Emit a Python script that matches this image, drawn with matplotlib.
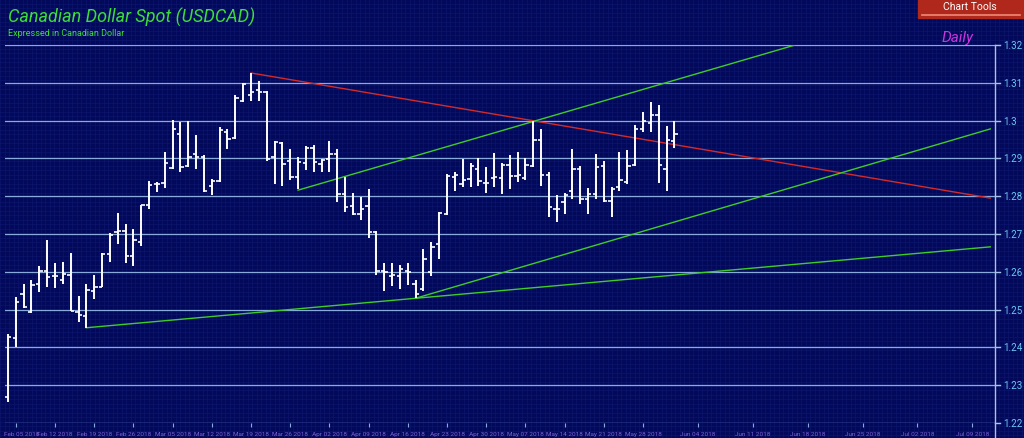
import matplotlib
matplotlib.use("Agg")
import matplotlib.pyplot as plt
import numpy as np
import pandas as pd

plt.rcParams['font.family'] = ['Roboto', 'DejaVu Sans']

# daily USDCAD bars, Feb 02 2018 .. Jun 01 2018 (weekdays)
dates = pd.bdate_range("2018-02-02", "2018-06-01")

opens = [1.2268, 1.2424, 1.2541, 1.2493, 1.2567, 1.2603, 1.2590, 1.2579, 1.2592, 1.2493,
         1.2482, 1.2548, 1.2561, 1.2647, 1.2705, 1.2707, 1.2643, 1.2680, 1.2777, 1.2833,
         1.2834, 1.2875, 1.2965, 1.2879, 1.2912, 1.2903, 1.2826, 1.2841, 1.2969, 1.2954,
         1.3051, 1.3067, 1.3080, 1.3075, 1.2903, 1.2941, 1.2892, 1.2850, 1.2888, 1.2927,
         1.2886, 1.2899, 1.2912, 1.2806, 1.2775, 1.2753, 1.2775, 1.2705, 1.2603, 1.2590,
         1.2590, 1.2603, 1.2568, 1.2555, 1.2599, 1.2674, 1.2753, 1.2850, 1.2833, 1.2846,
         1.2871, 1.2835, 1.2848, 1.2848, 1.2883, 1.2853, 1.2848, 1.2881, 1.2950, 1.2856,
         1.2766, 1.2784, 1.2815, 1.2871, 1.2793, 1.2806, 1.2879, 1.2788, 1.2824, 1.2837,
         1.2883, 1.2977, 1.2994, 1.3015, 1.2871, 1.2947]
highs = [1.2436, 1.2533, 1.2568, 1.2578, 1.2615, 1.2684, 1.2623, 1.2625, 1.2650, 1.2535,
         1.2568, 1.2592, 1.2649, 1.2703, 1.2756, 1.2727, 1.2712, 1.2778, 1.2841, 1.2837,
         1.2916, 1.3002, 1.2996, 1.3000, 1.2962, 1.2908, 1.2846, 1.2983, 1.2977, 1.3067,
         1.3100, 1.3127, 1.3104, 1.3077, 1.2945, 1.2943, 1.2924, 1.2903, 1.2932, 1.2936,
         1.2899, 1.2945, 1.2925, 1.2850, 1.2809, 1.2797, 1.2818, 1.2709, 1.2623, 1.2623,
         1.2618, 1.2623, 1.2579, 1.2661, 1.2678, 1.2758, 1.2859, 1.2864, 1.2899, 1.2888,
         1.2901, 1.2877, 1.2914, 1.2888, 1.2909, 1.2918, 1.2901, 1.3000, 1.2977, 1.2864,
         1.2802, 1.2809, 1.2925, 1.2879, 1.2821, 1.2912, 1.2894, 1.2824, 1.2916, 1.2921,
         1.2989, 1.3022, 1.3049, 1.3040, 1.2985, 1.3000]
lows = [1.2256, 1.2400, 1.2503, 1.2491, 1.2546, 1.2561, 1.2556, 1.2568, 1.2495, 1.2466,
        1.2452, 1.2528, 1.2559, 1.2627, 1.2674, 1.2623, 1.2616, 1.2669, 1.2765, 1.2811,
        1.2821, 1.2872, 1.2864, 1.2877, 1.2871, 1.2812, 1.2804, 1.2837, 1.2924, 1.2952,
        1.3049, 1.3051, 1.3053, 1.2894, 1.2833, 1.2826, 1.2844, 1.2818, 1.2868, 1.2865,
        1.2864, 1.2865, 1.2784, 1.2759, 1.2749, 1.2736, 1.2689, 1.2592, 1.2548, 1.2563,
        1.2555, 1.2565, 1.2530, 1.2550, 1.2590, 1.2634, 1.2749, 1.2815, 1.2824, 1.2824,
        1.2828, 1.2808, 1.2824, 1.2806, 1.2818, 1.2837, 1.2844, 1.2877, 1.2828, 1.2744,
        1.2731, 1.2753, 1.2793, 1.2780, 1.2753, 1.2793, 1.2784, 1.2744, 1.2815, 1.2833,
        1.2879, 1.2970, 1.2970, 1.2836, 1.2815, 1.2927]
closes = [1.2428, 1.2521, 1.2506, 1.2565, 1.2602, 1.2585, 1.2588, 1.2594, 1.2496, 1.2486,
          1.2552, 1.2561, 1.2646, 1.2698, 1.2707, 1.2641, 1.2683, 1.2777, 1.2830, 1.2831,
          1.2888, 1.2977, 1.2877, 1.2903, 1.2903, 1.2814, 1.2841, 1.2974, 1.2952, 1.3060,
          1.3097, 1.3075, 1.3075, 1.2899, 1.2943, 1.2886, 1.2850, 1.2890, 1.2927, 1.2890,
          1.2897, 1.2912, 1.2806, 1.2771, 1.2753, 1.2766, 1.2705, 1.2603, 1.2599, 1.2592,
          1.2607, 1.2599, 1.2541, 1.2634, 1.2665, 1.2756, 1.2853, 1.2855, 1.2844, 1.2879,
          1.2841, 1.2835, 1.2850, 1.2883, 1.2853, 1.2855, 1.2883, 1.2950, 1.2856, 1.2771,
          1.2766, 1.2802, 1.2872, 1.2793, 1.2806, 1.2877, 1.2786, 1.2819, 1.2844, 1.2881,
          1.2978, 1.2998, 1.3014, 1.2883, 1.2948, 1.2964]

# x tick labels (Mondays), later ones fall in the empty future part of the chart
tick_dates = ["2018-02-05", "2018-02-12", "2018-02-19", "2018-02-26", "2018-03-05",
              "2018-03-12", "2018-03-19", "2018-03-26", "2018-04-02", "2018-04-09",
              "2018-04-16", "2018-04-23", "2018-04-30", "2018-05-07", "2018-05-14",
              "2018-05-21", "2018-05-28", "2018-06-04", "2018-06-11", "2018-06-18",
              "2018-06-25", "2018-07-02", "2018-07-09"]

# drawn trend lines: (x0, y0, x1, y1) in bar slots / price
red_lines = [(31, 1.3126, 125.3, 1.2795)]
green_lines = [(37, 1.2816, 100.4, 1.3200),
               (52, 1.2530, 125.3, 1.2978),
               (10, 1.2452, 125.3, 1.2666)]

y_ticks = [1.22, 1.23, 1.24, 1.25, 1.26, 1.27, 1.28, 1.29, 1.30, 1.31, 1.32]

BG = '#03095a'
MESH = '#0d166e'
GRID = '#88aadc'
XLAB = '#7d5fd6'


def slot_of(d):
    # trading days get one slot each, dates after the last bar one slot per calendar day
    d = pd.Timestamp(d)
    if d <= dates[-1]:
        return int(dates.get_indexer([d])[0])
    return len(dates) - 1 + (d - dates[-1]).days


def main():
    W, H = 1024, 439
    fig = plt.figure(figsize=(W / 100, H / 100), dpi=100, facecolor=BG)

    # fine mesh background
    bg = fig.add_axes([0, 0, 1, 1])
    bg.set_xlim(0, W)
    bg.set_ylim(H, 0)
    bg.set_facecolor(BG)
    bg.axis('off')
    for xv in np.arange(0, W, 4.5):
        bg.axvline(xv, color=MESH, lw=0.45, zorder=0)
    for yv in np.arange(0, H, 4.5):
        bg.axhline(yv, color=MESH, lw=0.45, zorder=0)

    # right axis line going down to the bottom edge
    bg.plot([995, 995], [46, H], color='#a8c4ea', lw=1.0)
    for t in y_ticks:
        yp = 46 + (1.32 - t) / 0.10 * 378
        bg.plot([995, 1000], [yp, yp], color='#a8c4ea', lw=1.0)
        bg.text(1003, yp, '%g' % t, color='#6cc8f2', fontsize=7, va='center', ha='left')

    # header
    bg.text(8, 17, 'Canadian Dollar Spot (USDCAD)', color='#3ddc3a', fontsize=13,
            style='italic', va='center', ha='left')
    bg.text(8, 34, 'Expressed in Canadian Dollar', color='#3ddc3a', fontsize=6.5,
            va='center', ha='left')
    bg.add_patch(plt.Rectangle((918, 0), 106, 19, color='#b0281c', zorder=2))
    bg.plot([922, 1020], [16, 16], color='#f08a78', lw=1.2, zorder=3)
    bg.text(970, 7.5, 'Chart Tools', color='white', fontsize=7.5, ha='center', va='center', zorder=4)
    bg.text(958, 38, 'Daily', color='#c935dc', fontsize=11, style='italic',
            ha='center', va='center')

    # price axes
    ax = fig.add_axes([5 / W, (H - 424) / H, 990 / W, 378 / H])
    ax.patch.set_alpha(0)
    ax.set_xlim(-0.38, 125.9)
    ax.set_ylim(1.22, 1.32)
    for s in ax.spines.values():
        s.set_visible(False)
    for t in y_ticks:
        ax.axhline(t, color=GRID, lw=0.9, zorder=1)
    ax.set_yticks([])

    xt = [slot_of(d) for d in tick_dates]
    labels = [pd.Timestamp(d).strftime('%b %d %Y') for d in tick_dates]
    ax.set_xticks(xt)
    # first label is drawn by hand, pushed right so it stays inside the picture
    ax.set_xticklabels([''] + labels[1:])
    ax.tick_params(axis='x', direction='out', length=3, width=0.8, color=GRID,
                   labelsize=4.6, labelcolor=XLAB, pad=2.5)
    ax.annotate(labels[0], xy=(xt[0], 0), xycoords=('data', 'axes fraction'),
                xytext=(4.3, -5.5), textcoords='offset points',
                ha='center', va='top', fontsize=4.6, color=XLAB, annotation_clip=False)

    x = np.arange(len(dates))
    ax.vlines(x, lows, highs, color='white', lw=1.4, zorder=4)
    ax.hlines(opens, x - 0.42, x, color='white', lw=1.2, zorder=4)
    ax.hlines(closes, x, x + 0.42, color='white', lw=1.2, zorder=4)

    for x0, y0, x1, y1 in red_lines:
        ax.plot([x0, x1], [y0, y1], color='#d42a2a', lw=1.0, zorder=3)
    for x0, y0, x1, y1 in green_lines:
        ax.plot([x0, x1], [y0, y1], color='#3ecc2a', lw=1.0, zorder=3)

    fig.savefig('out.png', dpi=100, facecolor=BG)


if __name__ == '__main__':
    main()
